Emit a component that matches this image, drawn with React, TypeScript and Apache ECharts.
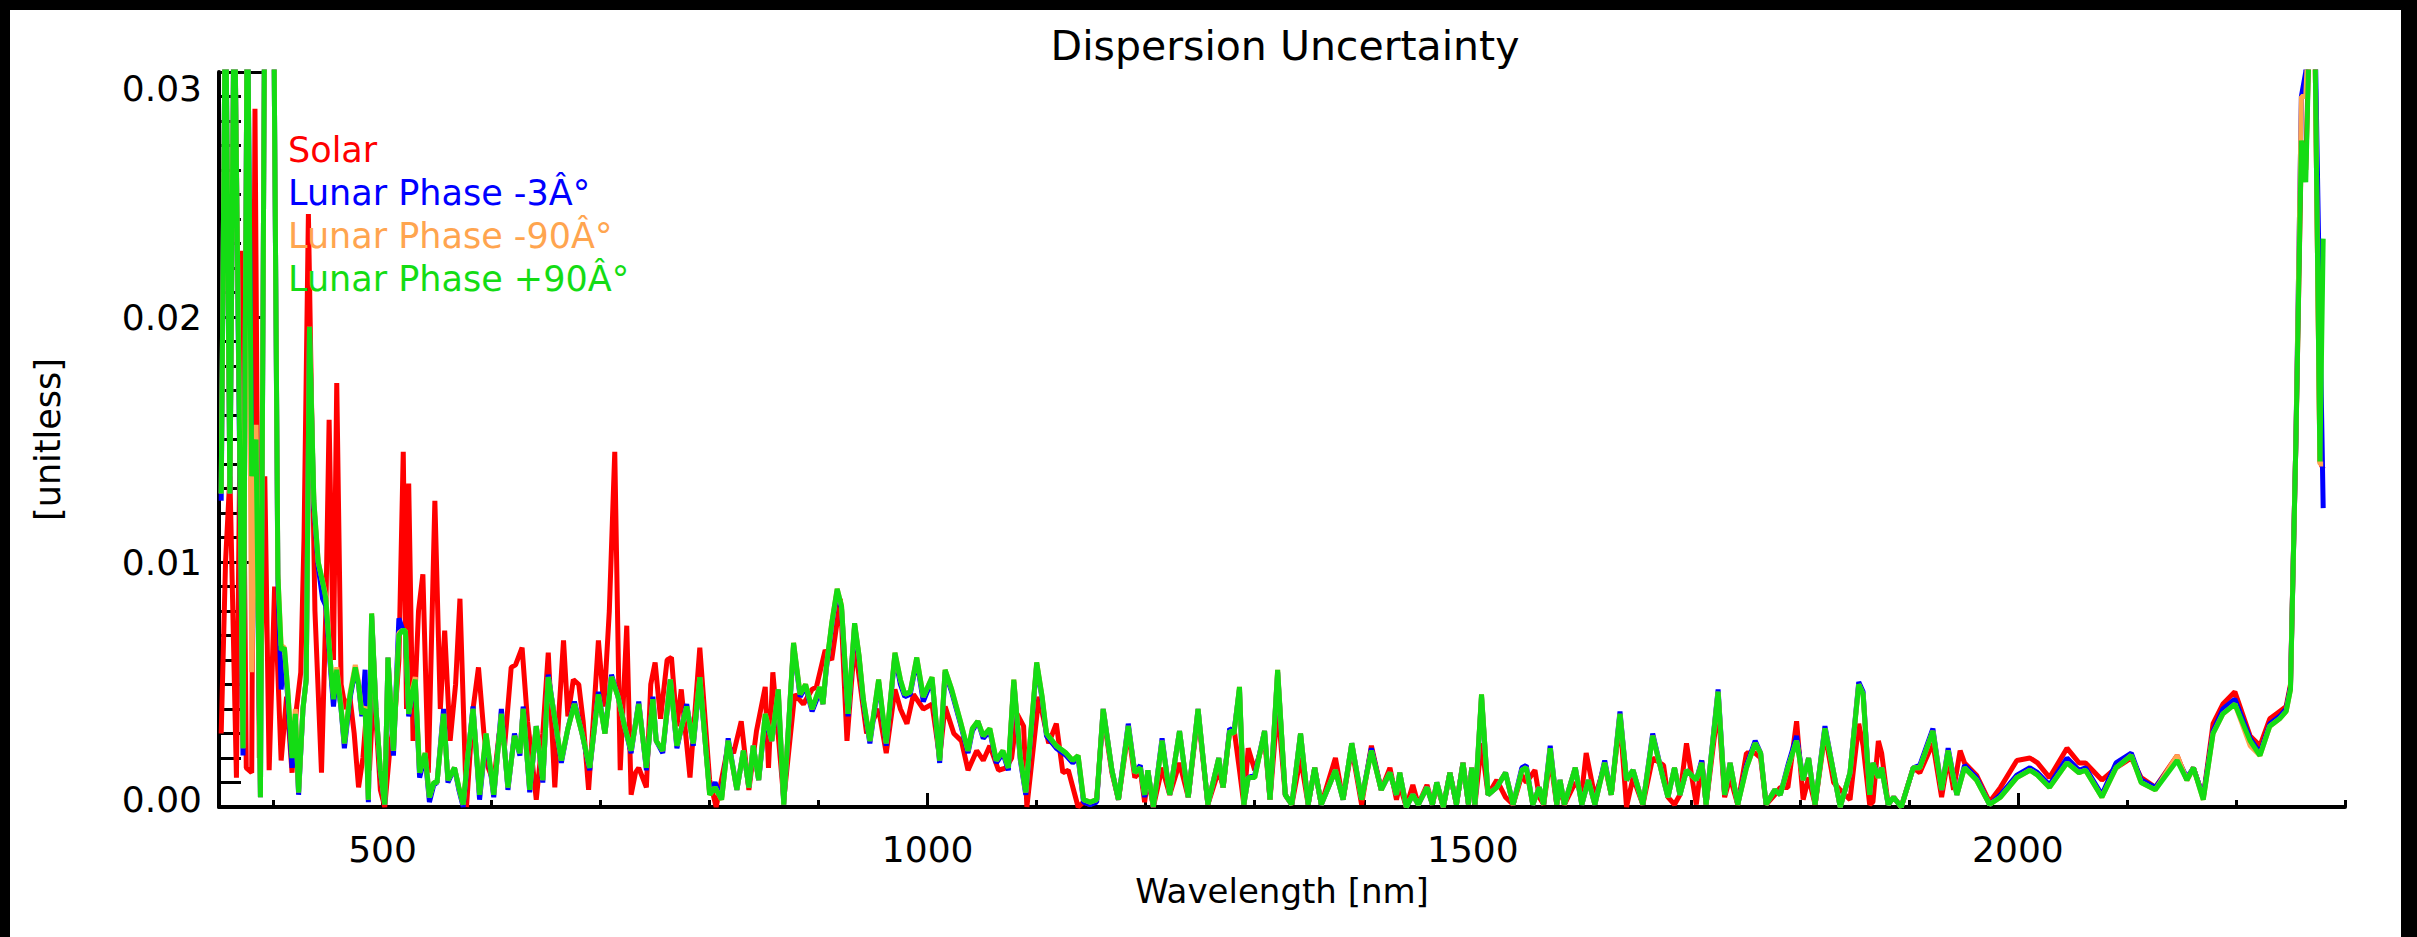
import React, { useEffect, useRef } from 'react';
import * as echarts from 'echarts';

const FONT = 'DejaVu Sans';
const RED = '#ff0000';
const BLUE = '#0000ff';
const ORANGE = '#ffa54f';
const GREEN = '#14dc14';

const chartTitle = 'Dispersion Uncertainty';
const seriesNames = ['Solar', 'Lunar Phase -3Â°', 'Lunar Phase -90Â°', 'Lunar Phase +90Â°'];

const xMajorTicks = [500, 1000, 1500, 2000];
const xMinorTicks = [400, 500, 600, 700, 800, 900, 1000, 1100, 1200, 1300, 1400, 1500, 1600, 1700, 1800, 1900, 2000, 2100, 2200, 2300];

const lunarWavelength = [
  352, 356, 360, 364, 369, 372, 376, 380, 384, 388, 392, 396, 400,
  404, 407, 410, 413, 417, 420, 423, 427, 430, 433, 437, 441, 445, 448, 452, 455, 458,
  462, 465, 470, 475, 478, 481, 484, 487, 490, 494, 498, 502, 505, 510, 515, 518, 521, 524, 527, 530,
  534, 539, 543, 547, 550, 556, 560, 566, 570, 574, 578, 583, 589, 595, 602,
  609, 615, 621, 626, 629, 635, 641, 647, 652, 658, 664, 670, 676, 683, 690, 698,
  704, 710, 716, 722, 728, 735, 742, 748, 751, 757, 764, 770, 779, 785, 791,
  800, 805, 811, 817, 825, 831, 836, 840, 845, 851, 857, 863, 868,
  877, 883, 888, 894, 901, 904, 907, 912, 917, 921, 927, 933, 937, 941,
  947, 955, 962, 970, 975, 979, 984, 990, 996, 1004, 1011, 1016,
  1022, 1030, 1037, 1041, 1046, 1051, 1057, 1063, 1069, 1074, 1079, 1085, 1090,
  1100, 1105, 1109, 1118, 1127, 1133, 1138, 1143, 1149, 1155,
  1161, 1169, 1175, 1184, 1190, 1195, 1199, 1202, 1207, 1215, 1222,
  1231, 1239, 1248, 1257, 1267, 1271, 1277, 1281, 1286, 1290, 1294, 1300,
  1309, 1314, 1321, 1328, 1334, 1342, 1349, 1355, 1361, 1374,
  1381, 1389, 1398, 1407, 1416, 1424, 1430, 1433, 1439, 1445, 1450,
  1458, 1463, 1467, 1473, 1479, 1485, 1491, 1496, 1499, 1502, 1508, 1514,
  1522, 1530, 1537, 1545, 1549, 1555, 1561, 1565, 1571, 1577, 1580, 1584,
  1594, 1600, 1606, 1612, 1621, 1627, 1635, 1641, 1647, 1656,
  1665, 1675, 1679, 1685, 1690, 1696, 1705, 1710, 1714, 1725, 1731,
  1736, 1743, 1751, 1759, 1764, 1769, 1777, 1782, 1789, 1797, 1803,
  1808, 1814, 1823, 1831, 1837, 1846, 1854, 1858, 1864, 1867, 1872, 1875,
  1881, 1886, 1893, 1904, 1910, 1922, 1930, 1936, 1944, 1951, 1962, 1974,
  1984, 1999, 2011, 2018, 2029, 2045, 2056, 2062, 2077, 2090, 2104, 2113,
  2126, 2146, 2155, 2161, 2170, 2179, 2188, 2199, 2213,
  2222, 2231, 2240, 2246, 2250, 2255, 2260, 2264, 2268, 2272, 2277, 2280,
];

const lunarPlus90 = [
  0.0128, 0.034, 0.0128, 0.034, 0.0145, 0.0024, 0.034, 0.0135, 0.0150, 0.0004, 0.034, 0.034, 0.034,
  0.0095, 0.0064, 0.0065, 0.0048, 0.0020, 0.0038, 0.0006, 0.0040, 0.0052, 0.0196, 0.0125, 0.0100, 0.0092, 0.0085, 0.0060, 0.0044, 0.0056,
  0.0040, 0.0026, 0.0045, 0.0057, 0.0050, 0.0038, 0.0040, 0.0003, 0.0079, 0.0040, 0.0015, 0.0001, 0.0061, 0.0023, 0.0070, 0.0072, 0.0072, 0.0038, 0.0046, 0.0052,
  0.0014, 0.0022, 0.0004, 0.0010, 0.0010, 0.0038, 0.0011, 0.0016, 0.0008, 0.0001, 0.0020, 0.0040, 0.0005, 0.0030, 0.0005,
  0.0038, 0.0008, 0.0029, 0.0022, 0.0040, 0.0007, 0.0033, 0.0011, 0.0053, 0.0036, 0.0019, 0.0032, 0.0042, 0.0030, 0.0016, 0.0046,
  0.0030, 0.0053, 0.0045, 0.0033, 0.0023, 0.0042, 0.0016, 0.0044, 0.0027, 0.0023, 0.0052, 0.0025, 0.0041, 0.0026, 0.0053,
  0.0005, 0.0008, 0.0003, 0.0027, 0.0007, 0.0023, 0.0008, 0.0025, 0.0011, 0.0038, 0.0027, 0.0048, 0.0001,
  0.0067, 0.0046, 0.0050, 0.0040, 0.0049, 0.0042, 0.0057, 0.0075, 0.0089, 0.0082, 0.0038, 0.0075, 0.0062, 0.0044,
  0.0027, 0.0052, 0.0026, 0.0063, 0.0052, 0.0046, 0.0047, 0.0061, 0.0045, 0.0053, 0.0019, 0.0056,
  0.0048, 0.0035, 0.0023, 0.0032, 0.0035, 0.0029, 0.0032, 0.0019, 0.0023, 0.0016, 0.0052, 0.0020, 0.0006,
  0.0059, 0.0045, 0.0030, 0.0025, 0.0022, 0.0019, 0.0021, 0.0003, 0.0002, 0.0003,
  0.0040, 0.0015, 0.0003, 0.0033, 0.0014, 0.0016, 0.0005, 0.0015, 0.0000, 0.0027, 0.0005,
  0.0031, 0.0004, 0.0040, 0.0001, 0.0020, 0.0008, 0.0031, 0.0030, 0.0049, 0.0001, 0.0012, 0.0012,
  0.0031, 0.0003, 0.0056, 0.0005, 0.0001, 0.0030, 0.0001, 0.0016, 0.0001, 0.0015,
  0.0003, 0.0026, 0.0003, 0.0023, 0.0007, 0.0014, 0.0005, 0.0014, 0.0000, 0.0005, 0.0001,
  0.0008, 0.0001, 0.0010, 0.0000, 0.0014, 0.0001, 0.0018, 0.0001, 0.0016, 0.0001, 0.0046, 0.0005,
  0.0008, 0.0014, 0.0001, 0.0015, 0.0016, 0.0001, 0.0008, 0.0001, 0.0024, 0.0001, 0.0011, 0.0001,
  0.0016, 0.0001, 0.0011, 0.0001, 0.0018, 0.0005, 0.0038, 0.0011, 0.0015, 0.0001,
  0.0029, 0.0011, 0.0004, 0.0016, 0.0005, 0.0015, 0.0011, 0.0018, 0.0001, 0.0047, 0.0005,
  0.0018, 0.0001, 0.0016, 0.0026, 0.0022, 0.0001, 0.0007, 0.0005, 0.0016, 0.0027, 0.0011,
  0.0020, 0.0001, 0.0032, 0.0014, 0.0000, 0.0014, 0.0050, 0.0046, 0.0005, 0.0018, 0.0012, 0.0016,
  0.0001, 0.0004, 0.0000, 0.0016, 0.0016, 0.0031, 0.0007, 0.0023, 0.0005, 0.0016, 0.0011, 0.0001,
  0.0004, 0.0012, 0.0015, 0.0013, 0.0008, 0.0018, 0.0014, 0.0015, 0.0004, 0.0016, 0.0021, 0.0010,
  0.0007, 0.0019, 0.0011, 0.0016, 0.0003, 0.0030, 0.0038, 0.0042, 0.0027,
  0.0021, 0.0033, 0.0036, 0.0039, 0.0048, 0.0150, 0.0272, 0.0255, 0.0330, 0.0330, 0.0141, 0.0232,
];

const lunarMinus3 = [
  0.0125, 0.034, 0.0128, 0.034, 0.0140, 0.0021, 0.034, 0.0135, 0.0140, 0.0004, 0.034, 0.034, 0.034,
  0.0093, 0.0048, 0.0062, 0.0045, 0.0016, 0.0036, 0.0005, 0.0040, 0.0052, 0.0194, 0.0123, 0.0098, 0.0085, 0.0082, 0.0058, 0.0041, 0.0055,
  0.0040, 0.0024, 0.0044, 0.0056, 0.0050, 0.0037, 0.0056, 0.0002, 0.0078, 0.0040, 0.0014, 0.0001, 0.0061, 0.0021, 0.0077, 0.0073, 0.0071, 0.0037, 0.0046, 0.0051,
  0.0012, 0.0021, 0.0002, 0.0009, 0.0010, 0.0040, 0.0010, 0.0016, 0.0007, 0.0000, 0.0019, 0.0041, 0.0003, 0.0029, 0.0004,
  0.0040, 0.0007, 0.0030, 0.0021, 0.0041, 0.0006, 0.0033, 0.0010, 0.0054, 0.0036, 0.0018, 0.0032, 0.0043, 0.0030, 0.0015, 0.0047,
  0.0030, 0.0054, 0.0045, 0.0033, 0.0022, 0.0043, 0.0015, 0.0045, 0.0027, 0.0022, 0.0052, 0.0024, 0.0042, 0.0025, 0.0052,
  0.0006, 0.0010, 0.0004, 0.0028, 0.0007, 0.0023, 0.0008, 0.0025, 0.0011, 0.0036, 0.0027, 0.0046, 0.0001,
  0.0066, 0.0045, 0.0049, 0.0039, 0.0047, 0.0042, 0.0056, 0.0074, 0.0088, 0.0081, 0.0037, 0.0074, 0.0061, 0.0043,
  0.0026, 0.0051, 0.0025, 0.0062, 0.0050, 0.0045, 0.0046, 0.0060, 0.0043, 0.0052, 0.0018, 0.0055,
  0.0047, 0.0034, 0.0022, 0.0031, 0.0035, 0.0028, 0.0031, 0.0018, 0.0022, 0.0015, 0.0051, 0.0019, 0.0005,
  0.0058, 0.0044, 0.0029, 0.0024, 0.0021, 0.0018, 0.0020, 0.0002, 0.0001, 0.0002,
  0.0040, 0.0015, 0.0003, 0.0034, 0.0014, 0.0017, 0.0004, 0.0015, 0.0000, 0.0028, 0.0005,
  0.0031, 0.0004, 0.0040, 0.0001, 0.0020, 0.0008, 0.0032, 0.0031, 0.0048, 0.0001, 0.0012, 0.0013,
  0.0031, 0.0003, 0.0055, 0.0005, 0.0001, 0.0030, 0.0001, 0.0016, 0.0001, 0.0015,
  0.0003, 0.0026, 0.0003, 0.0024, 0.0007, 0.0014, 0.0005, 0.0014, 0.0000, 0.0005, 0.0001,
  0.0008, 0.0001, 0.0010, 0.0000, 0.0014, 0.0001, 0.0018, 0.0001, 0.0016, 0.0001, 0.0045, 0.0005,
  0.0008, 0.0014, 0.0001, 0.0016, 0.0017, 0.0001, 0.0008, 0.0001, 0.0025, 0.0001, 0.0011, 0.0001,
  0.0016, 0.0001, 0.0011, 0.0001, 0.0019, 0.0005, 0.0039, 0.0011, 0.0015, 0.0001,
  0.0030, 0.0011, 0.0004, 0.0016, 0.0005, 0.0015, 0.0011, 0.0019, 0.0001, 0.0048, 0.0005,
  0.0018, 0.0001, 0.0017, 0.0027, 0.0022, 0.0001, 0.0007, 0.0005, 0.0017, 0.0029, 0.0011,
  0.0020, 0.0001, 0.0033, 0.0014, 0.0000, 0.0014, 0.0051, 0.0047, 0.0005, 0.0018, 0.0013, 0.0016,
  0.0001, 0.0004, 0.0000, 0.0016, 0.0017, 0.0032, 0.0007, 0.0024, 0.0005, 0.0017, 0.0012, 0.0001,
  0.0005, 0.0013, 0.0016, 0.0014, 0.0009, 0.0020, 0.0015, 0.0016, 0.0005, 0.0018, 0.0022, 0.0011,
  0.0008, 0.0020, 0.0012, 0.0016, 0.0004, 0.0031, 0.0040, 0.0044, 0.0028,
  0.0022, 0.0034, 0.0037, 0.0040, 0.0049, 0.0150, 0.0290, 0.0300, 0.0330, 0.0330, 0.0200, 0.0122,
];

const lunarMinus90 = [
  0.0128, 0.034, 0.0128, 0.034, 0.0150, 0.0024, 0.034, 0.0055, 0.0156, 0.0004, 0.034, 0.034, 0.034,
  0.0095, 0.0066, 0.0065, 0.0048, 0.0022, 0.0040, 0.0006, 0.0040, 0.0052, 0.0196, 0.0125, 0.0100, 0.0092, 0.0086, 0.0060, 0.0045, 0.0057,
  0.0041, 0.0026, 0.0046, 0.0058, 0.0051, 0.0038, 0.0041, 0.0003, 0.0079, 0.0040, 0.0015, 0.0001, 0.0061, 0.0023, 0.0071, 0.0072, 0.0072, 0.0038, 0.0047, 0.0053,
  0.0014, 0.0022, 0.0004, 0.0010, 0.0010, 0.0038, 0.0011, 0.0016, 0.0008, 0.0001, 0.0020, 0.0040, 0.0005, 0.0030, 0.0005,
  0.0038, 0.0008, 0.0029, 0.0022, 0.0040, 0.0007, 0.0033, 0.0011, 0.0053, 0.0036, 0.0019, 0.0032, 0.0042, 0.0030, 0.0016, 0.0046,
  0.0030, 0.0053, 0.0045, 0.0033, 0.0023, 0.0042, 0.0016, 0.0044, 0.0027, 0.0023, 0.0052, 0.0025, 0.0041, 0.0026, 0.0053,
  0.0005, 0.0008, 0.0003, 0.0027, 0.0007, 0.0023, 0.0008, 0.0025, 0.0011, 0.0038, 0.0027, 0.0048, 0.0001,
  0.0067, 0.0046, 0.0050, 0.0040, 0.0049, 0.0042, 0.0057, 0.0075, 0.0089, 0.0082, 0.0038, 0.0075, 0.0062, 0.0044,
  0.0027, 0.0052, 0.0026, 0.0063, 0.0052, 0.0046, 0.0047, 0.0061, 0.0045, 0.0053, 0.0019, 0.0056,
  0.0048, 0.0035, 0.0023, 0.0032, 0.0035, 0.0029, 0.0032, 0.0019, 0.0023, 0.0016, 0.0052, 0.0020, 0.0006,
  0.0059, 0.0045, 0.0030, 0.0025, 0.0022, 0.0019, 0.0021, 0.0003, 0.0002, 0.0003,
  0.0040, 0.0015, 0.0003, 0.0033, 0.0014, 0.0016, 0.0005, 0.0015, 0.0000, 0.0027, 0.0005,
  0.0031, 0.0004, 0.0040, 0.0001, 0.0020, 0.0008, 0.0031, 0.0030, 0.0049, 0.0001, 0.0012, 0.0012,
  0.0031, 0.0003, 0.0056, 0.0005, 0.0001, 0.0030, 0.0001, 0.0016, 0.0001, 0.0015,
  0.0003, 0.0026, 0.0003, 0.0023, 0.0007, 0.0014, 0.0005, 0.0014, 0.0000, 0.0005, 0.0001,
  0.0008, 0.0001, 0.0010, 0.0000, 0.0014, 0.0001, 0.0018, 0.0001, 0.0016, 0.0001, 0.0046, 0.0005,
  0.0008, 0.0014, 0.0001, 0.0015, 0.0016, 0.0001, 0.0008, 0.0001, 0.0024, 0.0001, 0.0011, 0.0001,
  0.0016, 0.0001, 0.0011, 0.0001, 0.0018, 0.0005, 0.0038, 0.0011, 0.0015, 0.0001,
  0.0029, 0.0011, 0.0004, 0.0016, 0.0005, 0.0015, 0.0011, 0.0018, 0.0001, 0.0047, 0.0005,
  0.0018, 0.0001, 0.0016, 0.0026, 0.0022, 0.0001, 0.0007, 0.0005, 0.0016, 0.0027, 0.0011,
  0.0020, 0.0001, 0.0032, 0.0014, 0.0000, 0.0014, 0.0050, 0.0046, 0.0005, 0.0018, 0.0012, 0.0016,
  0.0001, 0.0004, 0.0000, 0.0016, 0.0016, 0.0031, 0.0007, 0.0023, 0.0005, 0.0016, 0.0011, 0.0001,
  0.0004, 0.0012, 0.0015, 0.0013, 0.0008, 0.0018, 0.0014, 0.0015, 0.0004, 0.0016, 0.0021, 0.0010,
  0.0007, 0.0021, 0.0011, 0.0016, 0.0003, 0.0030, 0.0038, 0.0042, 0.0025,
  0.0021, 0.0033, 0.0036, 0.0039, 0.0048, 0.0150, 0.0290, 0.0290, 0.0330, 0.0330, 0.0140, 0.0140,
];

const solar = [
  [352, 0.0030], [356, 0.0100], [360, 0.0135], [366, 0.0012], [371, 0.0227], [375, 0.0016], [380, 0.0014], [383, 0.0285],
  [387, 0.0020], [392, 0.0135], [396, 0.0015], [401, 0.0090], [407, 0.0019], [412, 0.0045], [417, 0.0014], [421, 0.0040],
  [425, 0.0055], [428, 0.0110], [432, 0.0242], [438, 0.0080], [444, 0.0014], [448, 0.0080], [451, 0.0158], [455, 0.0060],
  [458, 0.0173], [462, 0.0050], [466, 0.0040], [470, 0.0045], [474, 0.0030], [478, 0.0008], [482, 0.0020], [485, 0.0037],
  [488, 0.0015], [492, 0.0050], [498, 0.0007], [502, 0.0000], [507, 0.0025], [511, 0.0035], [515, 0.0060], [519, 0.0145],
  [522, 0.0040], [524, 0.0132], [528, 0.0027], [533, 0.0080], [537, 0.0095], [542, 0.0014], [548, 0.0125], [553, 0.0040],
  [557, 0.0072], [562, 0.0027], [567, 0.0050], [571, 0.0085], [577, 0.0000], [583, 0.0040], [588, 0.0057], [593, 0.0030],
  [597, 0.0016], [602, 0.0010], [607, 0.0030], [612, 0.0025], [618, 0.0057], [622, 0.0058], [628, 0.0065], [633, 0.0035],
  [637, 0.0020], [641, 0.0003], [647, 0.0030], [652, 0.0063], [658, 0.0008], [662, 0.0040], [666, 0.0068], [670, 0.0037],
  [675, 0.0052], [680, 0.0050], [684, 0.0035], [689, 0.0007], [694, 0.0040], [698, 0.0068], [703, 0.0041], [708, 0.0080],
  [713, 0.0145], [718, 0.0015], [724, 0.0074], [728, 0.0005], [732, 0.0014], [735, 0.0016], [742, 0.0008], [746, 0.0050],
  [750, 0.0059], [755, 0.0036], [761, 0.0060], [765, 0.0061], [770, 0.0033], [774, 0.0048], [782, 0.0012], [791, 0.0065],
  [800, 0.0011], [806, 0.0000], [817, 0.0025], [822, 0.0022], [829, 0.0035], [836, 0.0007], [843, 0.0031], [851, 0.0049],
  [854, 0.0016], [858, 0.0055], [868, 0.0003], [878, 0.0046], [886, 0.0042], [894, 0.0048], [898, 0.0049], [906, 0.0064],
  [912, 0.0060], [920, 0.0085], [926, 0.0027], [933, 0.0067], [944, 0.0030], [955, 0.0040], [962, 0.0022], [970, 0.0048],
  [975, 0.0040], [981, 0.0034], [987, 0.0046], [996, 0.0040], [1004, 0.0042], [1011, 0.0020], [1016, 0.0041], [1024, 0.0030],
  [1031, 0.0027], [1037, 0.0015], [1045, 0.0023], [1051, 0.0019], [1057, 0.0025], [1065, 0.0015], [1072, 0.0016], [1077, 0.0020],
  [1082, 0.0038], [1088, 0.0033], [1091, 0.0000], [1102, 0.0045], [1111, 0.0026], [1118, 0.0034], [1124, 0.0014], [1129, 0.0015],
  [1138, 0.0000], [1143, 0.0002], [1149, 0.0001], [1155, 0.0003], [1161, 0.0038], [1169, 0.0014], [1175, 0.0003], [1184, 0.0031],
  [1190, 0.0012], [1195, 0.0015], [1199, 0.0002], [1202, 0.0012], [1207, 0.0000], [1215, 0.0016], [1222, 0.0005], [1231, 0.0018],
  [1239, 0.0004], [1248, 0.0038], [1257, 0.0001], [1267, 0.0015], [1271, 0.0008], [1277, 0.0031], [1281, 0.0032], [1286, 0.0015],
  [1290, 0.0001], [1294, 0.0024], [1300, 0.0015], [1309, 0.0028], [1314, 0.0003], [1321, 0.0041], [1328, 0.0005], [1334, 0.0001],
  [1342, 0.0020], [1349, 0.0001], [1355, 0.0016], [1361, 0.0001], [1374, 0.0020], [1381, 0.0003], [1389, 0.0024], [1398, 0.0001],
  [1407, 0.0025], [1416, 0.0007], [1424, 0.0016], [1430, 0.0003], [1433, 0.0009], [1439, 0.0000], [1445, 0.0009], [1450, 0.0001],
  [1458, 0.0009], [1463, 0.0001], [1467, 0.0009], [1473, 0.0000], [1479, 0.0014], [1485, 0.0001], [1491, 0.0018], [1496, 0.0001],
  [1499, 0.0016], [1502, 0.0001], [1508, 0.0026], [1514, 0.0005], [1522, 0.0011], [1530, 0.0004], [1537, 0.0001], [1545, 0.0013],
  [1549, 0.0010], [1557, 0.0015], [1561, 0.0004], [1565, 0.0001], [1571, 0.0020], [1577, 0.0001], [1580, 0.0008], [1584, 0.0001],
  [1594, 0.0010], [1600, 0.0006], [1604, 0.0022], [1612, 0.0004], [1621, 0.0017], [1627, 0.0005], [1635, 0.0036], [1641, 0.0000],
  [1647, 0.0012], [1656, 0.0001], [1665, 0.0020], [1675, 0.0017], [1679, 0.0004], [1685, 0.0001], [1690, 0.0005], [1696, 0.0026],
  [1705, 0.0001], [1710, 0.0019], [1714, 0.0001], [1725, 0.0041], [1731, 0.0004], [1736, 0.0012], [1743, 0.0001], [1751, 0.0022],
  [1759, 0.0022], [1764, 0.0020], [1769, 0.0001], [1777, 0.0005], [1782, 0.0008], [1789, 0.0008], [1797, 0.0035], [1803, 0.0003],
  [1808, 0.0012], [1814, 0.0001], [1823, 0.0030], [1831, 0.0010], [1837, 0.0007], [1846, 0.0003], [1854, 0.0034], [1858, 0.0025],
  [1864, 0.0001], [1867, 0.0002], [1872, 0.0027], [1875, 0.0022], [1881, 0.0001], [1886, 0.0004], [1893, 0.0000], [1904, 0.0016],
  [1910, 0.0014], [1922, 0.0026], [1930, 0.0004], [1936, 0.0020], [1941, 0.0007], [1947, 0.0023], [1951, 0.0018], [1962, 0.0013],
  [1974, 0.0002], [1984, 0.0008], [1999, 0.0019], [2011, 0.0020], [2018, 0.0018], [2029, 0.0012], [2045, 0.0024], [2056, 0.0018],
  [2062, 0.0018], [2077, 0.0011], [2090, 0.0016], [2104, 0.0020], [2113, 0.0012], [2126, 0.0008], [2146, 0.0021], [2155, 0.0011],
  [2161, 0.0016], [2170, 0.0004], [2179, 0.0034], [2188, 0.0042], [2199, 0.0047], [2213, 0.0029], [2222, 0.0025], [2231, 0.0036],
  [2240, 0.0039], [2246, 0.0041], [2250, 0.0050], [2255, 0.0150], [2260, 0.0270], [2264, 0.0260], [2268, 0.0330], [2272, 0.0330],
  [2277, 0.0141], [2280, 0.0138],
];

export default function App() {
  const ref = useRef<HTMLDivElement>(null);

  useEffect(() => {
    document.body.style.margin = '0';
    document.body.style.overflow = 'hidden';
    const chart = echarts.init(ref.current as HTMLDivElement, null, { renderer: 'svg' });
    const zip = (ys: number[]) => lunarWavelength.map((x, i) => [x, ys[i]]);
    const tickLine = { color: '#000', width: 3 };
    const lineSeries = (name: string, color: string, data: number[][]) => ({
      name,
      type: 'line',
      data,
      showSymbol: false,
      symbol: 'none',
      clip: true,
      silent: true,
      color,
      lineStyle: { color, width: 5 },
      emphasis: { disabled: true },
    });
    const labelFont = { fontFamily: FONT, fontSize: 36, color: '#000' };

    chart.setOption({
      animation: false,
      backgroundColor: '#ffffff',
      title: {
        text: chartTitle,
        left: 1280,
        top: 20,
        textAlign: 'center',
        textStyle: { fontFamily: FONT, fontSize: 41, fontWeight: 'normal', color: '#000' },
      },
      legend: {
        orient: 'vertical',
        left: 283,
        top: 132,
        padding: 0,
        itemWidth: 0,
        itemHeight: 0,
        itemGap: 8,
        icon: 'rect',
        selectedMode: false,
        textStyle: { fontFamily: FONT, fontSize: 35, lineHeight: 35 },
        data: [
          { name: seriesNames[0], textStyle: { color: RED } },
          { name: seriesNames[1], textStyle: { color: BLUE } },
          { name: seriesNames[2], textStyle: { color: ORANGE } },
          { name: seriesNames[3], textStyle: { color: GREEN } },
        ],
      },
      grid: { left: 219, right: 72, top: 72, bottom: 130, containLabel: false },
      xAxis: [
        {
          type: 'value',
          min: 350,
          max: 2300,
          position: 'bottom',
          name: 'Wavelength [nm]',
          nameLocation: 'middle',
          nameGap: 67,
          nameTextStyle: { fontFamily: FONT, fontSize: 34, color: '#000' },
          axisLine: { show: true, onZero: false, lineStyle: { color: '#000', width: 4 } },
          axisTick: { show: true, inside: true, length: 14, customValues: xMajorTicks, lineStyle: tickLine },
          axisLabel: { customValues: xMajorTicks, ...labelFont, margin: 24, formatter: (v: number) => String(v) },
          splitLine: { show: false },
        },
        {
          type: 'value',
          min: 350,
          max: 2300,
          position: 'bottom',
          axisLine: { show: false, onZero: false },
          axisTick: { show: true, inside: true, length: 7, customValues: xMinorTicks, lineStyle: tickLine },
          axisLabel: { show: false },
          splitLine: { show: false },
        },
      ],
      yAxis: {
        type: 'value',
        min: 0,
        max: 0.03,
        interval: 0.01,
        name: '[unitless]',
        nameLocation: 'middle',
        nameGap: 154,
        nameRotate: 90,
        nameTextStyle: { fontFamily: FONT, fontSize: 35, color: '#000' },
        axisLine: { show: true, lineStyle: { color: '#000', width: 4 } },
        axisTick: { show: true, inside: true, length: 45, lineStyle: tickLine },
        minorTick: { show: true, splitNumber: 10, length: 22, lineStyle: tickLine },
        splitLine: { show: false },
        minorSplitLine: { show: false },
        axisLabel: {
          margin: 17,
          ...labelFont,
          formatter: (v: number) =>
            v === 0 ? '{lo|0.00}' : v > 0.0295 ? '{hi|0.03}' : '{mid|' + v.toFixed(2) + '}',
          rich: {
            lo: { ...labelFont, padding: [0, 0, 16, 0] },
            hi: { ...labelFont, padding: [32, 0, 0, 0] },
            mid: { ...labelFont },
          },
        },
      },
      graphic: [
        { type: 'rect', shape: { x: 0, y: 0, width: 2417, height: 10 }, style: { fill: '#000' }, silent: true },
        { type: 'rect', shape: { x: 0, y: 0, width: 10, height: 937 }, style: { fill: '#000' }, silent: true },
        { type: 'rect', shape: { x: 2401, y: 0, width: 16, height: 937 }, style: { fill: '#000' }, silent: true },
      ],
      series: [
        lineSeries(seriesNames[0], RED, solar),
        lineSeries(seriesNames[1], BLUE, zip(lunarMinus3)),
        lineSeries(seriesNames[2], ORANGE, zip(lunarMinus90)),
        lineSeries(seriesNames[3], GREEN, zip(lunarPlus90)),
      ],
    });

    return () => chart.dispose();
  }, []);

  return <div ref={ref} style={{ width: 2417, height: 937, background: '#fff' }} />;
}
